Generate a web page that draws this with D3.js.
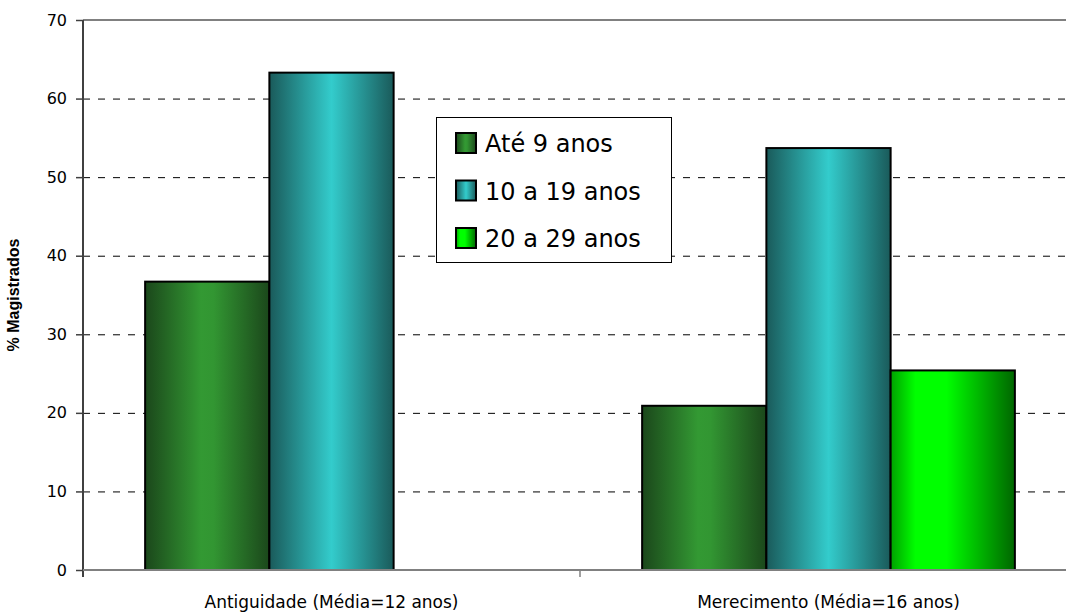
<!DOCTYPE html>
<html>
<meta charset="utf-8">
<script src="https://d3js.org/d3.v7.min.js"></script>
<body style="margin:0;background:#fff">
<div id="chart"></div>
<script>
    // data
    const categories = ["Antiguidade (Média=12 anos)", "Merecimento (Média=16 anos)"];
    const series = ["Até 9 anos", "10 a 19 anos", "20 a 29 anos"];
    const ate9 = [36.7, 20.9];
    const de10a19 = [63.3, 53.7];
    const de20a29 = [0, 25.4];
    const yTicks = [0, 10, 20, 30, 40, 50, 60, 70];

    const values = [ate9, de10a19, de20a29];
    const rows = categories.map(function(c, i) {
      return { cat: c, vals: series.map(function(s, j) { return { key: s, idx: j, v: values[j][i] }; }) };
    });

    const W = 1066, H = 616;
    const plotLeft = 83, plotTop = 20, plotBottom = 570;

    const svg = d3.select("#chart").append("svg")
      .attr("width", W).attr("height", H)
      .style("display", "block");

    // gradients for the bars
    const defs = svg.append("defs");
    const grads = [
      [[0, "#1b471b"], [0.45, "#339933"], [0.55, "#329632"], [1, "#1b471b"]],
      [[0, "#1a5a5a"], [0.5, "#33cccc"], [1, "#1a5a5a"]],
      [[0, "#00a000"], [0.2, "#00ff00"], [0.45, "#00ff00"], [1, "#006600"]]
    ];
    grads.forEach(function(stops, i) {
      const g = defs.append("linearGradient").attr("id", "g" + i)
        .attr("x1", 0).attr("x2", 1).attr("y1", 0).attr("y2", 0);
      stops.forEach(function(s) {
        g.append("stop").attr("offset", s[0]).attr("stop-color", s[1]);
      });
    });

    const x = d3.scaleBand().domain(categories).range([plotLeft, plotLeft + 2 * 497]);
    const xSub = d3.scaleBand().domain(series).range([0, x.bandwidth()]).paddingOuter(0.5);
    const y = d3.scaleLinear().domain([0, 70]).range([plotBottom, plotTop]);

    // gridlines
    svg.append("g").selectAll("line")
      .data(yTicks.filter(function(t) { return t > 0 && t < 70; }))
      .join("line")
      .attr("x1", plotLeft).attr("x2", W)
      .attr("y1", function(d) { return y(d) + 0.5; })
      .attr("y2", function(d) { return y(d) + 0.5; })
      .attr("stroke", "#000").attr("stroke-width", 1)
      .attr("stroke-dasharray", "7,8");
    svg.append("line")
      .attr("x1", plotLeft).attr("x2", W)
      .attr("y1", y(70)).attr("y2", y(70))
      .attr("stroke", "#808080").attr("stroke-width", 2);

    // bars
    const grp = svg.append("g").selectAll("g")
      .data(rows).join("g")
      .attr("transform", function(d) { return "translate(" + x(d.cat) + ",0)"; });
    grp.selectAll("rect")
      .data(function(d) { return d.vals.filter(function(v) { return v.v > 0; }); })
      .join("rect")
      .attr("x", function(d) { return xSub(d.key); })
      .attr("width", xSub.bandwidth())
      .attr("y", function(d) { return y(d.v); })
      .attr("height", function(d) { return y(0) - y(d.v); })
      .attr("fill", function(d) { return "url(#g" + d.idx + ")"; })
      .attr("stroke", "#000").attr("stroke-width", 2);

    // y axis
    const yAxis = svg.append("g")
      .attr("transform", "translate(" + plotLeft + ",0)")
      .call(d3.axisLeft(y).tickValues(yTicks).tickSize(7).tickPadding(9));
    yAxis.select(".domain").attr("stroke", "#404040").attr("stroke-width", 2)
      .attr("d", "M0," + plotTop + "V" + (plotBottom + 7));
    yAxis.selectAll(".tick line").attr("stroke", "#404040").attr("stroke-width", 1.5);
    yAxis.selectAll("text")
      .style("font-family", "'DejaVu Sans', sans-serif")
      .style("font-size", "16px").attr("fill", "#000");

    // x axis
    const xAxis = svg.append("g")
      .attr("transform", "translate(0," + plotBottom + ")")
      .call(d3.axisBottom(x).tickSize(0).tickPadding(26));
    xAxis.select(".domain").attr("stroke", "#808080").attr("stroke-width", 2)
      .attr("d", "M" + plotLeft + ",0H" + W);
    xAxis.selectAll("text")
      .style("font-family", "'DejaVu Sans', sans-serif")
      .style("font-size", "17px").attr("fill", "#000");
    svg.append("line")
      .attr("x1", x(categories[1])).attr("x2", x(categories[1]))
      .attr("y1", plotBottom).attr("y2", plotBottom + 7)
      .attr("stroke", "#808080").attr("stroke-width", 1.5);

    // y title
    svg.append("text")
      .attr("transform", "translate(19," + ((plotTop + plotBottom) / 2) + ") rotate(-90)")
      .attr("text-anchor", "middle")
      .style("font-family", "'Liberation Sans', Arial, sans-serif")
      .style("font-weight", "bold")
      .style("font-size", "16px")
      .text("% Magistrados");

    // legend
    const lg = svg.append("g").attr("transform", "translate(436,117)");
    lg.append("rect").attr("x", 0.5).attr("y", 0.5).attr("width", 235).attr("height", 145)
      .attr("fill", "#fff").attr("stroke", "#000").attr("stroke-width", 1);
    const item = lg.selectAll("g.item").data(series).join("g")
      .attr("class", "item")
      .attr("transform", function(d, i) { return "translate(0," + (i * 47.5) + ")"; });
    item.append("rect")
      .attr("x", 20).attr("y", 16).attr("width", 20).attr("height", 20)
      .attr("fill", function(d, i) { return "url(#g" + i + ")"; })
      .attr("stroke", "#000").attr("stroke-width", 2);
    item.append("text")
      .attr("x", 49).attr("y", 35)
      .style("font-family", "'DejaVu Sans', sans-serif")
      .style("font-size", "24px")
      .text(function(d) { return d; });
</script>
</body>
</html>
